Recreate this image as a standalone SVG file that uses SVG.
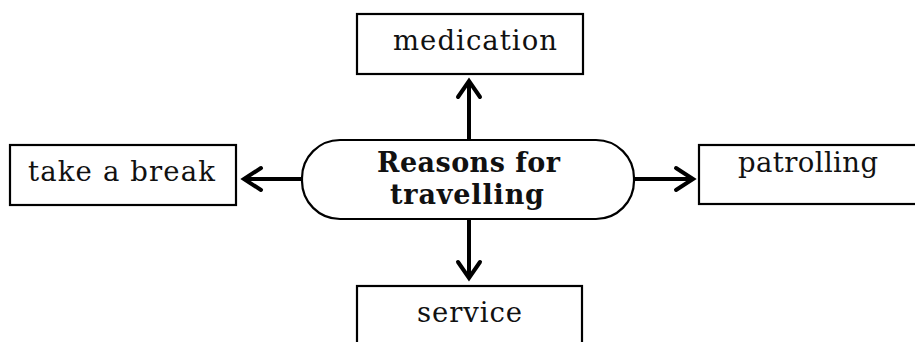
<svg xmlns="http://www.w3.org/2000/svg" width="915" height="342" viewBox="0 0 915 342">
<style>
.box{fill:#fff;stroke:#000;stroke-width:2.2}
.lbl{font-family:"DejaVu Serif","Liberation Serif",serif;font-size:27.5px;fill:#111}
.hub{font-family:"DejaVu Serif","Liberation Serif",serif;font-size:27px;font-weight:bold;fill:#111}
.line{stroke:#000;stroke-width:4;fill:none}
.head{stroke:#000;stroke-width:4;fill:none;stroke-linecap:round;stroke-linejoin:miter}
</style>
<rect width="915" height="342" fill="#fff"/>
<g id="connectors">
<line class="line" x1="469" y1="140" x2="469" y2="83"/>
<polyline class="head" points="458,97 469,81 480,97"/>
<line class="line" x1="469" y1="219" x2="469" y2="277"/>
<polyline class="head" points="458,262 469,278 480,262"/>
<line class="line" x1="302" y1="179" x2="245" y2="179"/>
<polyline class="head" points="261,168 244,179 261,190"/>
<line class="line" x1="634" y1="179" x2="691" y2="179"/>
<polyline class="head" points="676,168 693,179 676,190"/>
</g>
<g id="hub">
<rect class="box" x="302" y="140" width="332" height="79" rx="38" ry="38"/>
<text class="hub" x="377" y="172" textLength="183" lengthAdjust="spacing">Reasons for</text>
<text class="hub" x="390" y="204" textLength="154" lengthAdjust="spacing">travelling</text>
</g>
<g id="medication">
<rect class="box" x="357" y="14" width="226" height="60"/>
<text class="lbl" x="393" y="50" textLength="164" lengthAdjust="spacing">medication</text>
</g>
<g id="take-a-break">
<rect class="box" x="10" y="145" width="226" height="60"/>
<text class="lbl" x="28" y="181" textLength="187" lengthAdjust="spacing">take a break</text>
</g>
<g id="patrolling">
<rect class="box" x="699" y="145" width="230" height="59"/>
<text class="lbl" x="738" y="172" textLength="140" lengthAdjust="spacing">patrolling</text>
</g>
<g id="service">
<rect class="box" x="357" y="286" width="225" height="70"/>
<text class="lbl" x="417" y="322" textLength="105" lengthAdjust="spacing">service</text>
</g>
</svg>
